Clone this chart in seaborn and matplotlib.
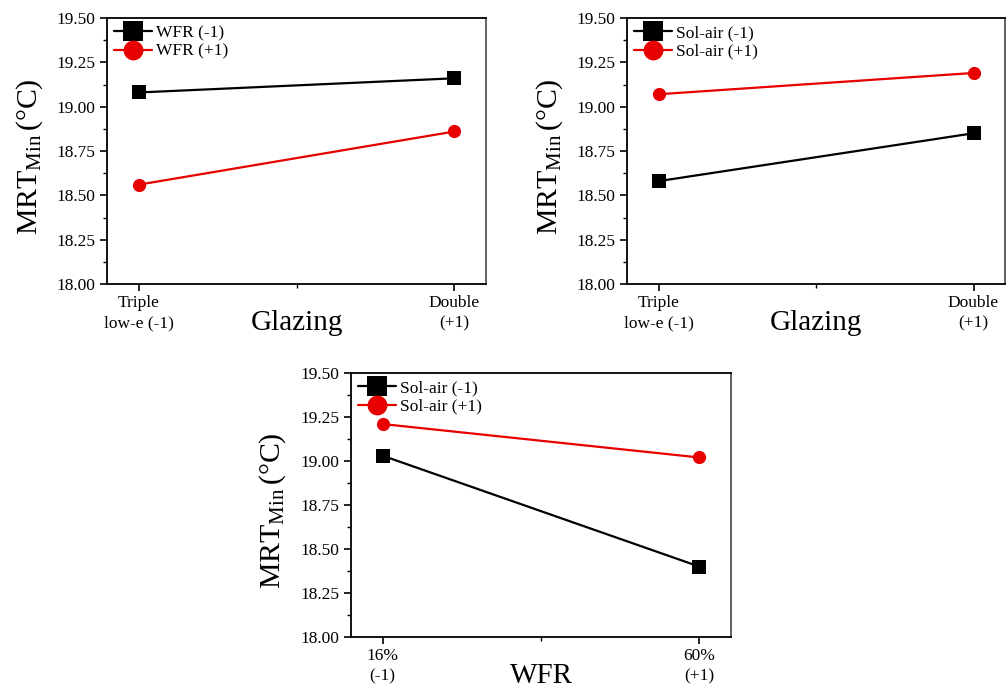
import numpy as np
import pandas as pd
import matplotlib
matplotlib.use("Agg")
import matplotlib.pyplot as plt
from matplotlib.ticker import MultipleLocator, FixedLocator
import seaborn as sns

# Data
LEVELS = [-1, 1]

glazing_labels = ["Triple\nlow-e (-1)", "Double\n(+1)"]
wfr_labels = ["16%\n(-1)", "60%\n(+1)"]

# panel 1: glazing x WFR
p1_names = ["WFR (-1)", "WFR (+1)"]
p1_low = [19.08, 19.16]
p1_high = [18.56, 18.86]

# panel 2: glazing x sol-air
p2_names = ["Sol-air (-1)", "Sol-air (+1)"]
p2_low = [18.58, 18.85]
p2_high = [19.07, 19.19]

# panel 3: WFR x sol-air
p3_names = ["Sol-air (-1)", "Sol-air (+1)"]
p3_low = [19.03, 18.40]
p3_high = [19.21, 19.02]

sns.set_style("ticks")
plt.rcParams["font.family"] = ["Liberation Serif", "DejaVu Serif"]
plt.rcParams["mathtext.fontset"] = "custom"
plt.rcParams["mathtext.rm"] = "Liberation Serif"
plt.rcParams["mathtext.it"] = "Liberation Serif:italic"
for key in ["text.color", "axes.labelcolor", "xtick.color", "ytick.color"]:
    plt.rcParams[key] = "black"

W, H = 1007, 693
fig = plt.figure(figsize=(W / 100, H / 100), dpi=100)


def px_axes(left, top, right, bottom):
    return fig.add_axes([left / W, 1 - bottom / H, (right - left) / W, (bottom - top) / H])


def draw_panel(ax, names, low, high, xticklabels, xlabel):
    df = pd.DataFrame({
        "x": LEVELS * 2,
        "y": low + high,
        "series": [names[0]] * 2 + [names[1]] * 2,
    })
    sns.lineplot(data=df, x="x", y="y", hue="series", style="series",
                 palette=["black", "#e60000"], markers=["s", "o"], dashes=False,
                 markersize=9.5, markeredgewidth=0, linewidth=1.6, ax=ax)
    ax.set_xlim(-1.2, 1.2)
    ax.set_ylim(18.0, 19.5)
    ax.yaxis.set_major_locator(MultipleLocator(0.25))
    ax.yaxis.set_minor_locator(MultipleLocator(0.125))
    ax.yaxis.set_major_formatter(matplotlib.ticker.FormatStrFormatter("%.2f"))
    ax.xaxis.set_major_locator(FixedLocator(LEVELS))
    ax.xaxis.set_minor_locator(FixedLocator([0]))
    ax.set_xticklabels(xticklabels, fontsize=12.5, linespacing=1.35)
    ax.tick_params(axis="y", which="major", labelsize=12.5, length=5, width=1.2, direction="out")
    ax.tick_params(axis="y", which="minor", length=3, width=1.0)
    ax.tick_params(axis="x", which="major", length=5, width=1.2, pad=3)
    ax.tick_params(axis="x", which="minor", length=3, width=1.0)
    for side in ["left", "bottom", "top"]:
        ax.spines[side].set_color("black")
        ax.spines[side].set_linewidth(1.3)
    ax.spines["right"].set_color("#555555")
    ax.spines["right"].set_linewidth(1.3)

    ax.set_xlabel(xlabel, fontsize=21, va="center")
    ax.xaxis.set_label_coords(0.5, -0.148)
    ax.set_ylabel(r"MRT$_{\mathrm{Min}}\,$(°C)", fontsize=21.5, va="center")
    ax.yaxis.set_label_coords(-0.205, 0.48)

    ax.legend(loc="upper left", frameon=False, fontsize=12.5, markerscale=1.5,
              handlelength=2.2, handletextpad=0.2, borderaxespad=0.2,
              labelspacing=0.15, borderpad=0.2)


ax1 = px_axes(107, 18, 486, 284)
draw_panel(ax1, p1_names, p1_low, p1_high, glazing_labels, "Glazing")

ax2 = px_axes(627, 18, 1005, 284)
draw_panel(ax2, p2_names, p2_low, p2_high, glazing_labels, "Glazing")

ax3 = px_axes(351, 373, 731, 637)
draw_panel(ax3, p3_names, p3_low, p3_high, wfr_labels, "WFR")

fig.savefig("out.png", dpi=100)
